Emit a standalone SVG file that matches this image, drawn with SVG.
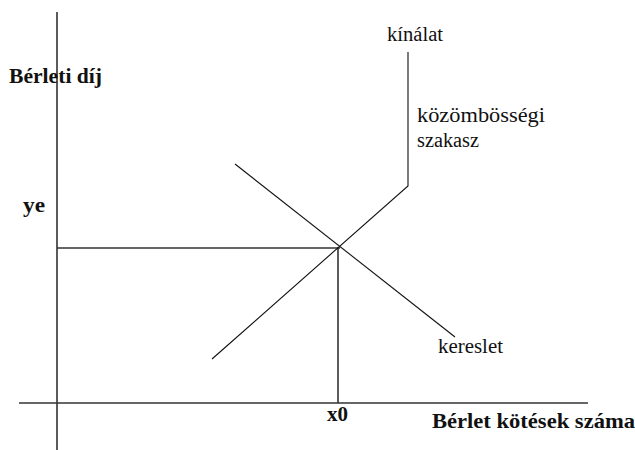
<svg xmlns="http://www.w3.org/2000/svg" width="635" height="450" viewBox="0 0 635 450">
<style>
.ax{stroke:#333;stroke-width:1.6;fill:none}
.ln{stroke:#111;stroke-width:1.1;fill:none}
.b{font-family:"Liberation Serif",serif;font-weight:bold;fill:#111;font-size:21.5px}
.r{font-family:"Liberation Serif",serif;fill:#111;font-size:20.5px}
</style>
<rect width="635" height="450" fill="#fff"/>
<g id="axes">
<line class="ax" x1="57" y1="12" x2="57" y2="450"/>
<line class="ax" x1="19" y1="403" x2="588" y2="403"/>
</g>
<g id="connectors">
<line class="ax" x1="57" y1="248" x2="340" y2="248"/>
<line class="ax" x1="338" y1="247" x2="338" y2="403"/>
<line class="ln" x1="235" y1="164" x2="455" y2="337"/>
<polyline class="ln" points="212,359 408,186 408,52"/>
</g>
<g id="labels">
<text class="b" x="9" y="83" textLength="93" lengthAdjust="spacingAndGlyphs">Bérleti díj</text>
<text class="b" x="23" y="212" textLength="22" lengthAdjust="spacingAndGlyphs">ye</text>
<text class="b" x="327" y="421" textLength="21" lengthAdjust="spacingAndGlyphs">x0</text>
<text class="b" x="432" y="428" textLength="203" lengthAdjust="spacingAndGlyphs">Bérlet kötések száma</text>
<text class="r" x="387" y="41" textLength="56" lengthAdjust="spacingAndGlyphs">kínálat</text>
<text class="r" x="417" y="122" textLength="128" lengthAdjust="spacingAndGlyphs">közömbösségi</text>
<text class="r" x="417" y="147" textLength="62" lengthAdjust="spacingAndGlyphs">szakasz</text>
<text class="r" x="438" y="353" textLength="65" lengthAdjust="spacingAndGlyphs">kereslet</text>
</g>
</svg>
